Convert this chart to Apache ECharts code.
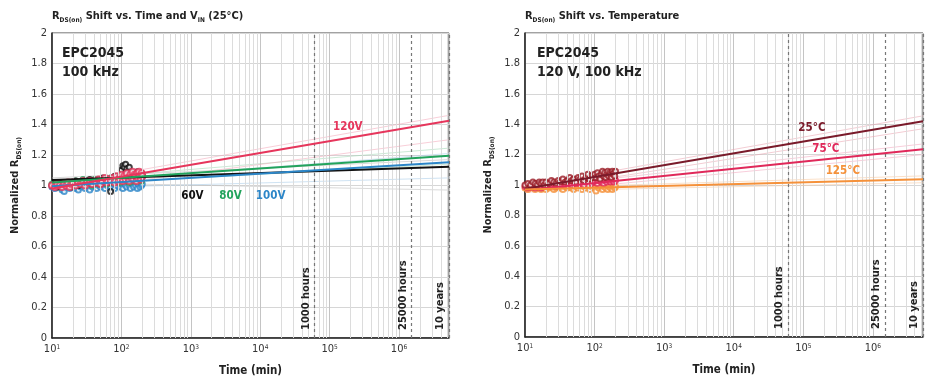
<!DOCTYPE html>
<html>
<head>
<meta charset="utf-8">
<script src="https://cdn.jsdelivr.net/npm/echarts@6/dist/echarts.min.js"></script>
<style>
html, body { margin: 0; padding: 0; background: #fff; }
#chart { width: 929px; height: 383px; }
</style>
</head>
<body>
<div id="chart"></div>
<script>
var FONT = "'Liberation Sans Narrow', 'DejaVu Sans Condensed', sans-serif";
var T_MIN = 10, T_MAX = 5256000;            // 10 min .. 10 years
var HOURS_1000 = 60000, HOURS_25000 = 1500000;

// sample times (min)
var times = [10, 11, 12, 13, 14, 15, 16, 17, 18, 19, 20, 22, 24, 26, 28, 30, 32, 35, 38, 41, 44, 47, 50, 54, 58, 62, 66, 70,
    75, 80, 85, 90, 95, 100, 105, 110, 115, 120, 125, 130, 135, 140, 145, 150, 155, 160, 165, 170, 175, 180, 185, 190, 195, 200];

// left chart: measured points per V_IN
var v60 = [1.00, 1.01, 0.99, 1.02, 1.00, 1.01, 1.00, 1.02, 1.01, 0.99, 1.02, 1.03, 1.00, 1.02, 1.01, 1.03, 1.02, 1.04, 1.01, 1.03, 1.02, 1.04, 1.01, 1.05, 1.03, 1.04, 1.02, 0.96,
    1.04, 1.06, 1.03, 1.05, 1.04, 1.10, 1.13, 1.12, 1.14, 1.11, 1.09, 1.12, 1.07, 1.05, 1.08, 1.06, 1.04, 1.07, 1.05, 1.09, 1.06, 1.04, 1.07, 1.05, 1.08, 1.06];
var v80 = [1.01, 1.00, 1.02, 0.99, 1.01, 1.00, 1.02, 1.01, 1.00, 1.02, 1.01, 1.03, 1.00, 1.02, 1.04, 1.01, 1.03, 1.02, 1.00, 1.04, 1.02, 1.01, 1.03, 1.02, 1.04, 1.01, 1.03, 1.05,
    1.02, 1.04, 1.03, 1.06, 1.02, 1.05, 1.08, 1.04, 1.03, 1.06, 1.04, 1.02, 1.07, 1.05, 1.03, 1.06, 1.04, 1.08, 1.05, 1.03, 1.06, 1.04, 1.07, 1.05, 1.03, 1.06];
var v100 = [0.99, 0.98, 1.00, 0.99, 0.97, 0.96, 0.99, 1.00, 0.98, 0.99, 1.00, 0.98, 0.97, 0.99, 1.00, 0.98, 1.00, 0.97, 0.99, 1.01, 0.98, 1.00, 0.99, 1.01, 0.98, 1.00, 1.02, 0.99,
    1.01, 0.98, 1.00, 1.02, 0.99, 1.01, 0.98, 1.02, 1.00, 0.99, 1.03, 1.00, 0.98, 1.02, 1.01, 0.99, 1.03, 1.00, 1.02, 0.98, 1.01, 1.03, 0.99, 1.02, 1.00, 1.01];
var v120 = [1.00, 0.99, 1.01, 1.00, 0.99, 1.01, 1.00, 1.02, 0.99, 1.01, 1.02, 1.00, 1.02, 1.01, 1.03, 1.00, 1.02, 1.03, 1.01, 1.03, 1.02, 1.04, 1.01, 1.03, 1.05, 1.02, 1.04, 1.03,
    1.05, 1.02, 1.06, 1.03, 1.05, 1.07, 1.03, 1.06, 1.04, 1.08, 1.05, 1.03, 1.07, 1.05, 1.09, 1.04, 1.07, 1.06, 1.03, 1.08, 1.05, 1.09, 1.06, 1.04, 1.08, 1.06];

// right chart: measured points per temperature
var v25 = [1.00, 1.01, 1.00, 1.02, 1.01, 1.00, 1.02, 1.01, 1.02, 1.00, 1.02, 1.01, 1.03, 1.02, 1.01, 1.03, 1.02, 1.04, 1.02, 1.03, 1.05, 1.03, 1.04, 1.02, 1.05, 1.04, 1.06, 1.03,
    1.05, 1.07, 1.04, 1.06, 1.05, 1.07, 1.05, 1.08, 1.06, 1.04, 1.07, 1.09, 1.06, 1.08, 1.05, 1.07, 1.09, 1.06, 1.08, 1.07, 1.05, 1.09, 1.07, 1.08, 1.06, 1.09];
var v75 = [0.99, 0.98, 1.00, 0.99, 0.98, 1.00, 0.99, 0.98, 1.00, 0.99, 1.01, 0.99, 1.00, 1.01, 0.99, 1.01, 1.00, 1.02, 1.00, 1.01, 1.02, 1.00, 1.02, 1.01, 1.03, 1.01, 1.02, 1.00,
    1.03, 1.02, 1.04, 1.01, 1.03, 1.02, 1.04, 1.01, 1.03, 1.05, 1.02, 1.04, 1.01, 1.03, 1.05, 1.02, 1.04, 1.03, 1.05, 1.02, 1.04, 1.03, 1.05, 1.02, 1.04, 1.03];
var v125 = [0.98, 0.97, 0.99, 0.98, 0.97, 0.99, 0.98, 0.97, 0.98, 0.99, 0.97, 0.98, 0.99, 0.97, 0.98, 0.99, 0.98, 0.97, 0.99, 0.98, 1.00, 0.98, 0.97, 0.99, 0.98, 1.00, 0.97, 0.99,
    0.98, 1.00, 0.97, 0.99, 1.01, 0.98, 0.96, 1.00, 0.98, 0.99, 1.01, 0.97, 0.99, 1.00, 0.98, 1.01, 0.97, 0.99, 1.00, 0.98, 1.01, 0.97, 0.99, 1.00, 0.98, 0.99];

// fitted trend values at [T_MIN, T_MAX]
var fit60 = [1.036, 1.123], fit80 = [1.019, 1.195], fit100 = [0.995, 1.152], fit120 = [0.98, 1.425];
var fit25 = [0.975, 1.42], fit75 = [0.965, 1.235], fit125 = [0.97, 1.038];
// faint prediction bands [start, end]
var band60 = [[1.05, 1.17], [1.02, 0.97]], band80 = [[1.03, 1.245], [1.0, 1.14]];
var band100 = [[1.01, 1.21], [0.98, 1.05]], band120 = [[1.0, 1.46], [0.96, 1.30]];
var band25 = [[0.99, 1.455], [0.96, 1.37]], band75 = [[0.98, 1.27], [0.95, 1.20]], band125 = [[0.98, 1.06], [0.96, 1.015]];

var myChart = echarts.init(document.getElementById('chart'));

function scatter(color, vals, gi, size) {
    return {
        type: 'scatter', xAxisIndex: gi, yAxisIndex: gi, silent: true, z: 4,
        symbol: 'emptyCircle', symbolSize: size,
        itemStyle: { color: color, borderColor: color, borderWidth: 1.3 },
        data: times.map(function (t, i) { return [t, vals[i]] })
    }
}
function fitLine(color, ends, gi, label) {
    var s = {
        type: 'line', xAxisIndex: gi, yAxisIndex: gi, silent: true, z: 5, symbol: 'none',
        lineStyle: { color: color, width: 2 },
        data: [[T_MIN, ends[0]], [T_MAX, ends[1]]]
    }
    if (label) {
        s.markPoint = {
            symbol: 'circle', symbolSize: 0, silent: true,
            label: { show: true, formatter: label.text, color: color, fontFamily: FONT, fontWeight: 'bold', fontSize: 11.5 },
            data: [{ coord: label.at }]
        }
    }
    return s
}
function bandLines(color, band, gi) {
    return band.map(function (b) {
        return {
            type: 'line', xAxisIndex: gi, yAxisIndex: gi, silent: true, z: 3, symbol: 'none',
            lineStyle: { color: color, width: 1, opacity: 0.55 },
            data: [[T_MIN, b[0]], [T_MAX, b[1]]]
        }
    })
}
function minorGrid(gi) {
    var d = []
    for (var e = 1; e <= 6; e++) {
        for (var m = 2; m <= 9; m++) {
            var v = m * Math.pow(10, e)
            if (v < T_MAX) d.push({ xAxis: v })
        }
    }
    return {
        type: 'line', xAxisIndex: gi, yAxisIndex: gi, data: [], silent: true, z: 1,
        markLine: {
            silent: true, symbol: ['none', 'none'], animation: false,
            lineStyle: { color: '#dcdcdc', type: 'solid', width: 1 },
            label: { show: false }, data: d
        }
    }
}
function hourMarks(gi) {
    return {
        type: 'line', xAxisIndex: gi, yAxisIndex: gi, data: [], silent: true, z: 2,
        markLine: {
            silent: true, symbol: ['none', 'none'], animation: false,
            lineStyle: { color: '#777', type: [3, 3], width: 1.2 },
            label: {
                show: true, position: 'insideStartTop', formatter: '{b}', distance: [8, 3],
                fontFamily: FONT, fontWeight: 'bold', fontSize: 11, color: '#222'
            },
            data: [{ name: '1000 hours', xAxis: HOURS_1000 }, { name: '25000 hours', xAxis: HOURS_25000 }, { name: '10 years', xAxis: T_MAX }]
        }
    }
}

var subRich = {
    sub: { fontSize: 6.5, fontWeight: 'bold', fontFamily: FONT, color: '#222', lineHeight: 9, verticalAlign: 'bottom' }
}
function xAxisOf(gi) {
    return {
        type: 'log', logBase: 10, gridIndex: gi, min: T_MIN, max: T_MAX,
        axisLine: { show: true, onZero: false, lineStyle: { color: '#222', width: 1.5 } },
        axisTick: { show: false },
        splitLine: { show: true, lineStyle: { color: '#c4c4c4' } },
        axisLabel: {
            margin: 6, fontSize: 11, color: '#333', fontFamily: FONT,
            formatter: function (v) {
                var lg = Math.log10(v), e = Math.round(lg)
                if (Math.abs(lg - e) > 1e-6) return ''
                return '10{sup|' + e + '}'
            },
            rich: { sup: { fontSize: 6.5, fontFamily: FONT, color: '#333', lineHeight: 8, verticalAlign: 'top' } }
        },
        name: 'Time (min)', nameLocation: 'middle', nameGap: 27,
        nameTextStyle: { fontFamily: FONT, fontWeight: 'bold', fontSize: 11.5, color: '#222' }
    }
}
function yAxisOf(gi) {
    return {
        type: 'value', gridIndex: gi, min: 0, max: 2, interval: 0.2,
        axisLine: { show: true, lineStyle: { color: '#222', width: 1.5 } },
        axisTick: { show: false },
        splitLine: { lineStyle: { color: '#d6d6d6' } },
        axisLabel: { margin: 5, fontSize: 11, color: '#333', fontFamily: FONT },
        name: 'Normalized R{sub|DS(on)}', nameLocation: 'middle', nameGap: 29,
        nameTextStyle: { fontFamily: FONT, fontWeight: 'bold', fontSize: 11, color: '#222', lineHeight: 15, rich: subRich }
    }
}
function titleOf(text, left) {
    return {
        text: text, left: left, top: 9, padding: 0,
        textStyle: { fontFamily: FONT, fontWeight: 'bold', fontSize: 11, color: '#222', lineHeight: 15, rich: subRich }
    }
}
function noteOf(text, left) {
    return {
        text: text, left: left, top: 44, padding: 0,
        textStyle: { fontFamily: FONT, fontWeight: 'bold', fontSize: 14, lineHeight: 19, color: '#222' }
    }
}

var series = [minorGrid(0), hourMarks(0), minorGrid(1), hourMarks(1)]
series = series.concat(
    bandLines('#b9b9b9', band60, 0), bandLines('#9fd7b2', band80, 0),
    bandLines('#a6cbe8', band100, 0), bandLines('#f3a5b8', band120, 0),
    bandLines('#e9a3ae', band25, 1), bandLines('#f3a5bd', band75, 1), bandLines('#f8c79b', band125, 1)
)
series = series.concat([
    fitLine('#111111', fit60, 0, { text: '60V', at: [1054, 0.931] }),
    fitLine('#22a35c', fit80, 0, { text: '80V', at: [3733, 0.931] }),
    fitLine('#2c86c8', fit100, 0, { text: '100V', at: [14130, 0.931] }),
    fitLine('#e6365c', fit120, 0, { text: '120V', at: [183000, 1.384] }),
    scatter('#2c86c8', v100, 0, 5),
    scatter('#22a35c', v80, 0, 5),
    scatter('#111111', v60, 0, 5),
    scatter('#e6365c', v120, 0, 6),
    fitLine('#7a1a2a', fit25, 1, { text: '25°C', at: [133000, 1.377] }),
    fitLine('#e0285a', fit75, 1, { text: '75°C', at: [211000, 1.239] }),
    fitLine('#f5913a', fit125, 1, { text: '125°C', at: [370000, 1.089] }),
    scatter('#f5913a', v125, 1, 5),
    scatter('#e0285a', v75, 1, 5),
    scatter('#9a1c26', v25, 1, 5)
])

var option = {
    animation: false,
    backgroundColor: '#fff',
    title: [
        titleOf('R{sub|DS(on)} Shift vs. Time and V{sub|IN} (25°C)', 52),
        titleOf('R{sub|DS(on)} Shift vs. Temperature', 525),
        noteOf('EPC2045\n100 kHz', 62),
        noteOf('EPC2045\n120 V, 100 kHz', 537)
    ],
    grid: [
        { left: 52, top: 33, width: 397, height: 305, show: true, borderColor: '#444', borderWidth: 1 },
        { left: 525, top: 33, width: 398, height: 304, show: true, borderColor: '#444', borderWidth: 1 }
    ],
    xAxis: [xAxisOf(0), xAxisOf(1)],
    yAxis: [yAxisOf(0), yAxisOf(1)],
    series: series
};
myChart.setOption(option);
</script>
</body>
</html>
